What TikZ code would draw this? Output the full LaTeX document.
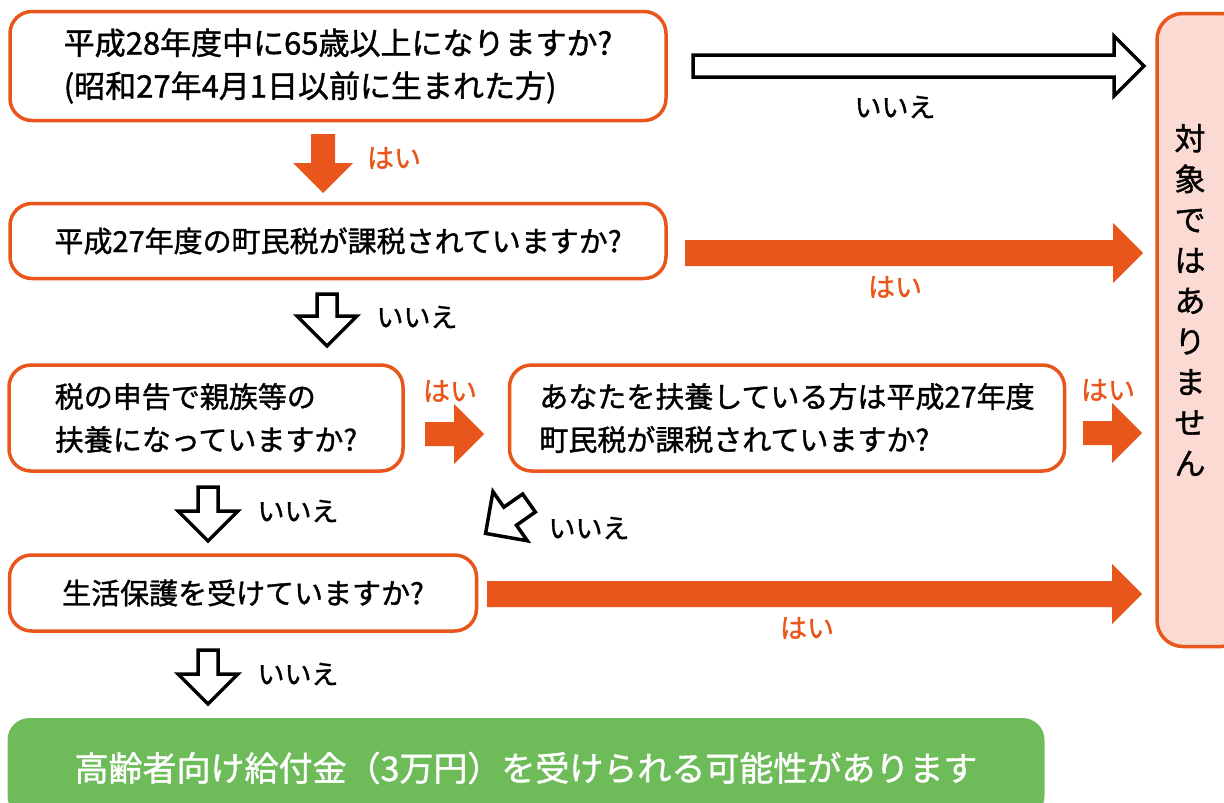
\documentclass[tikz,border=0pt]{standalone}
\usepackage{fontspec}
\setmainfont{Noto Sans CJK JP}[FakeBold=1.2]
\usetikzlibrary{positioning}

\definecolor{orng}{HTML}{E9561B}
\definecolor{pinkbg}{HTML}{FADAD2}
\definecolor{grn}{HTML}{6EBB5A}

% block arrow: [style]{start}{angle}{length}{half shaft}
\newcommand{\blockarrow}[5][]{%
    \draw[#1, shift={(#2)}, rotate=#3]
        (0,-#5) -- ({#4-30},-#5) -- ({#4-30},-30) -- (#4,0)
        -- ({#4-30},30) -- ({#4-30},#5) -- (0,#5) -- cycle;}

\begin{document}
\begin{tikzpicture}[x=1pt, y=-1pt,
        qbox/.style={draw=orng, line width=3.5pt, rounded corners=22pt, fill=white,
            align=left, font=\fontsize{29}{43}\selectfont},
        yes/.style={text=orng, font=\fontsize{27}{30}\selectfont},
        no/.style={font=\fontsize{27}{30}\selectfont},
        yesarrow/.style={fill=orng, draw=none},
        noarrow/.style={draw=black, fill=white, line width=3.5pt, line join=miter}]

    \useasboundingbox (0,0) rectangle (1224,803);
    \clip (0,0) rectangle (1224,803);

    \node[qbox, minimum width=656pt, minimum height=109pt,
        font=\fontsize{31}{43}\selectfont] (q1) at (338,66)
        {平成28年度中に65歳以上になりますか?\\(昭和27年4月1日以前に生まれた方)};
    \node[qbox, minimum width=656pt, minimum height=75pt] (q2) at (338,241)
        {平成27年度の町民税が課税されていますか?};
    \node[qbox, minimum width=394pt, minimum height=106pt] (q3) at (206,418)
        {税の申告で親族等の\\扶養になっていますか?};
    \node[qbox, minimum width=555pt, minimum height=106pt] (q4) at (787,418)
        {あなたを扶養している方は平成27年度\\町民税が課税されていますか?};
    \node[qbox, minimum width=467pt, minimum height=76pt] (q5) at (243,593)
        {生活保護を受けていますか?};

    \node[draw=orng, line width=3.5pt, rounded corners=26pt, fill=pinkbg,
        minimum width=90pt, minimum height=633pt] (stopbox) at (1202,330) {};
    \node[align=center, font=\fontsize{31}{40.6}\selectfont] (stop) at (1190,300)
        {対\\象\\で\\は\\あ\\り\\ま\\せ\\ん};

    \node[fill=grn, rounded corners=22pt, minimum width=1037pt, minimum height=100pt,
        text=white, font=\fontsize{34}{40}\selectfont] (result) at (526,768)
        {高齢者向け給付金（3万円）を受けられる可能性があります};

    % arrows
    \blockarrow[noarrow]{693,66}{0}{451}{11}
    \blockarrow[yesarrow]{323,134}{-90}{59}{12}
    \blockarrow[yesarrow]{685,253}{0}{458}{13}
    \blockarrow[noarrow]{327,294}{-90}{52}{10}
    \blockarrow[yesarrow]{425,434}{0}{59}{12}
    \blockarrow[yesarrow]{1083,433}{0}{59}{12}
    \blockarrow[noarrow]{208,487}{-90}{54}{10}
    \blockarrow[noarrow]{529,503}{215}{53}{11}
    \blockarrow[yesarrow]{487,594}{0}{655}{13}
    \blockarrow[noarrow]{208,650}{-90}{54}{10}

    \node[yes] (y1) at (394,158) {はい};
    \node[no] (n1) at (895,107) {いいえ};
    \node[yes] (y2) at (895,287) {はい};
    \node[no] (n2) at (417,317) {いいえ};
    \node[yes] (y3) at (450,391) {はい};
    \node[yes] (y4) at (1108,390) {はい};
    \node[no] (n3) at (298,511) {いいえ};
    \node[no] (n4) at (589,528) {いいえ};
    \node[yes] (y5) at (807,628) {はい};
    \node[no] (n5) at (298,674) {いいえ};
\end{tikzpicture}
\end{document}
